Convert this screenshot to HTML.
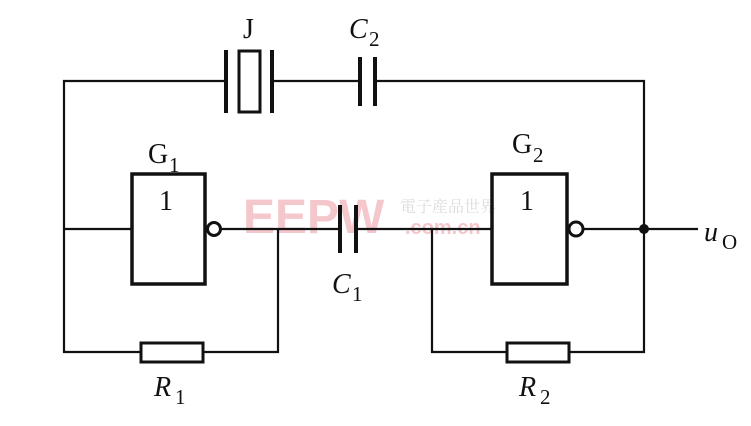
<!DOCTYPE html>
<html><head><meta charset="utf-8"><style>
html,body{margin:0;padding:0;background:#fff;width:751px;height:426px;overflow:hidden}
text{font-family:"Liberation Serif",serif;fill:#111}
</style></head><body>
<svg width="751" height="426" viewBox="0 0 751 426" xmlns="http://www.w3.org/2000/svg">
<g opacity="0.35">
<text x="243" y="233" style="font-family:'Liberation Sans',sans-serif;font-weight:bold;font-size:48px;fill:#e06070">EEPW</text>
<text x="400" y="212" style="font-family:'Noto Serif CJK SC',serif;font-size:16px;fill:#999">電子産品世界</text>
<text x="405" y="234" style="font-family:'Liberation Sans',sans-serif;font-weight:bold;font-size:20px;fill:#e06070">.com.cn</text>
</g>
<g stroke="#111" fill="none" stroke-width="2.2">
<polyline points="226,81 64,81 64,352 141,352"/>
<line x1="272" y1="81" x2="360" y2="81"/>
<polyline points="375,81 644,81 644,352 569,352"/>
<line x1="226" y1="50" x2="226" y2="113" stroke-width="4"/>
<rect x="239" y="51" width="21" height="61" stroke-width="3"/>
<line x1="272" y1="50" x2="272" y2="113" stroke-width="4"/>
<line x1="360" y1="57" x2="360" y2="106" stroke-width="4"/>
<line x1="375" y1="57" x2="375" y2="106" stroke-width="4"/>
<line x1="64" y1="229" x2="132" y2="229"/>
<rect x="132" y="174" width="73" height="110" stroke-width="3.5"/>
<circle cx="214" cy="229" r="6.5" stroke-width="3"/>
<line x1="220.5" y1="229" x2="340" y2="229"/>
<polyline points="278,229 278,352 203,352"/>
<rect x="141" y="343" width="62" height="19" stroke-width="3"/>
<line x1="340" y1="205" x2="340" y2="253" stroke-width="4"/>
<line x1="356" y1="205" x2="356" y2="253" stroke-width="4"/>
<line x1="356" y1="229" x2="492" y2="229"/>
<polyline points="432,229 432,352 507,352"/>
<rect x="492" y="174" width="75" height="110" stroke-width="3.5"/>
<circle cx="576" cy="229" r="7" stroke-width="3"/>
<line x1="583" y1="229" x2="698" y2="229"/>
<rect x="507" y="343" width="62" height="19" stroke-width="3"/>
</g>
<circle cx="644" cy="229" r="5" fill="#111"/>
<text x="243" y="38" font-size="28">J</text>
<text x="349" y="38" font-size="28" font-style="italic">C</text><text x="369" y="46" font-size="21">2</text>
<text x="148" y="163" font-size="28">G</text><text x="169" y="172" font-size="21">1</text>
<text x="159" y="210" font-size="28">1</text>
<text x="512" y="153" font-size="28">G</text><text x="533" y="162" font-size="21">2</text>
<text x="520" y="210" font-size="28">1</text>
<text x="332" y="293" font-size="28" font-style="italic">C</text><text x="352" y="301" font-size="21">1</text>
<text x="154" y="396" font-size="28" font-style="italic">R</text><text x="175" y="404" font-size="21">1</text>
<text x="519" y="396" font-size="28" font-style="italic">R</text><text x="540" y="404" font-size="21">2</text>
<text x="704" y="241" font-size="28" font-style="italic">u</text><text x="722" y="249" font-size="21">O</text>
</svg>
</body></html>
